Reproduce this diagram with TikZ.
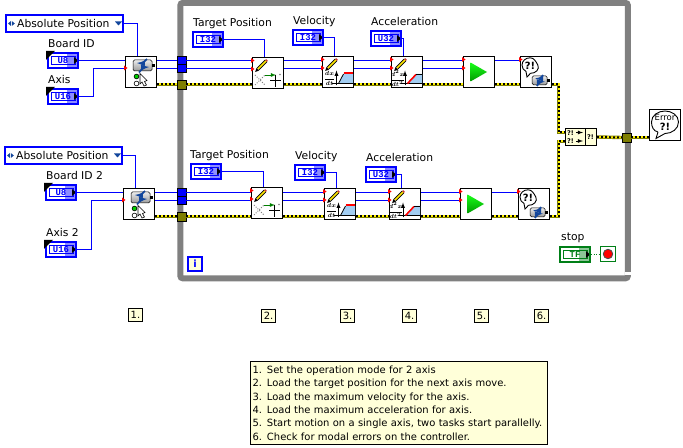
\documentclass[tikz,border=0pt]{standalone}
\usepackage{fontspec}
\setmainfont{DejaVu Sans}
\newfontfamily\termfont{Liberation Mono}
\usetikzlibrary{shapes,arrows,positioning,fit}

\definecolor{wireblue}{HTML}{0000FF}
\definecolor{wiregreen}{HTML}{007F17}
\definecolor{errolive}{HTML}{7F7F00}
\definecolor{notefill}{HTML}{FFFFD9}
\definecolor{motorblue}{HTML}{12469C}
\definecolor{rampblue}{HTML}{A2CDF2}

\tikzset{
	termbody/.style={rectangle, draw=#1, fill=white, line width=2bp, minimum width=30bp, minimum height=15bp,
		inner sep=0bp, font=\termfont\bfseries\fontsize{9}{9}\selectfont, text=#1,
		path picture={
			\coordinate (c) at (path picture bounding box.center);
			\fill [#1!45!white] ([xshift=4bp,yshift=-8bp]c) rectangle ([xshift=15bp,yshift=8bp]c);
			\draw [#1, line width=0.7bp] ([xshift=-12bp,yshift=-3.7bp]c) rectangle ([xshift=12bp,yshift=3.7bp]c);
			\fill [black] ([xshift=11bp,yshift=-3.5bp]c) -- ([xshift=15bp,yshift=0bp]c) -- ([xshift=11bp,yshift=3.5bp]c) -- cycle;
		}},
	corner/.pic={
		\fill [black] (-1,-1) -- (8,-1) -- (-1,8) -- cycle;
	},
	enumarrows/.pic={
		\fill [motorblue] (6,7) -- (3,9.5) -- (6,12) -- cycle;
		\fill [motorblue] (6.8,7) -- (9.8,9.5) -- (6.8,12) -- cycle;
		\fill [motorblue] (110,7.5) -- (117,7.5) -- (113.5,11.5) -- cycle;
	},
	pinone/.pic={
		\fill [red] (-1,1) -- (2.5,3.5) -- (-1,6) -- cycle;
	},
	pinpair/.pic={
		\fill [red] (-1,1) -- (2.5,3.5) -- (-1,6) -- cycle;
		\fill [red] (-1,9.5) -- (2.5,12) -- (-1,14.5) -- cycle;
	},
	pencil/.pic={
		\draw [black, line width=3.4bp] (6,12) -- (14,4);
		\draw [yellow!90!orange, line width=1.6bp] (6,12) -- (14,4);
		\fill [black] (3.2,15) -- (4.4,11) -- (7,13.6) -- cycle;
		\fill [red!60!gray] (13,3) -- (15,5) -- (15.8,3.6) -- (14.4,2.2) -- cycle;
	},
	motor/.pic={
		\shade [top color=gray!15, bottom color=gray!80, draw=black, line width=0.5bp, rounded corners=1.5bp] (0,0) rectangle (19,11);
		\fill [black] (19,4) rectangle (22,7);
		\draw [motorblue, line width=1.7bp, -latex] (14,-1) to [bend left=25] (4,3);
		\draw [motorblue, line width=1.7bp, -latex] (6,12.5) to [bend left=25] (16,7);
	},
	modeicon/.pic={
		\pic at (8,4) {motor};
		\draw [black, fill=green!80!black, line width=0.6bp] (11.5,20.5) circle (2.4);
		\draw [black, fill=white, line width=0.6bp] (11.5,27.5) circle (2.4);
		\draw [black, fill=white, line width=0.6bp] (15,17.5) -- (15,28) -- (17,26) -- (19,30) -- (21.5,29) -- (19.5,25.5) -- (22,24.5) -- cycle;
	},
	posicon/.pic={
		\draw [gray, line width=1bp, dash pattern=on 1bp off 1.5bp] (3,28) -- (13,18);
		\draw [gray, line width=1bp, dash pattern=on 1bp off 1.5bp] (3,18) -- (13,28);
		\draw [green!50!black, line width=0.8bp, -latex] (13,18) -- (24,18);
		\draw [black, line width=1bp] (18,24) -- (29,24);
		\draw [black, line width=1bp] (23.5,18.5) -- (23.5,30);
		\fill [gray] (28,17.5) circle (0.9);
	},
	velicon/.pic={
		\node (frac) at (7.5,22.5) [font=\fontsize{6.5}{7}\selectfont\boldmath, inner sep=0bp] {$\displaystyle\frac{dx}{dt}$};
		\draw [black, line width=0.9bp, -latex] (14.5,29.5) -- (14.5,14.5);
		\fill [rampblue] (16.5,27.5) -- (21.5,18) -- (31,18) -- (31,27.5) -- cycle;
		\draw [black, line width=0.9bp] (10,27.5) -- (31,27.5);
		\draw [black, line width=0.8bp] (16.5,27.5) -- (21.5,18);
		\draw [red, line width=2.2bp] (21.5,17) -- (31,17);
	},
	accicon/.pic={
		\node (frac) at (6.5,22.5) [font=\fontsize{6}{7}\selectfont\boldmath, inner sep=0bp] {$\displaystyle\frac{d^2x}{dt^2}$};
		\draw [black, line width=0.9bp, -latex] (14,29.5) -- (14,14.5);
		\fill [rampblue] (16.5,27.5) -- (25,18) -- (31,18) -- (31,27.5) -- cycle;
		\draw [black, line width=0.9bp] (10,27.5) -- (31,27.5);
		\draw [red, line width=1.6bp] (16.5,27.5) -- (25,18.5);
		\draw [black, line width=0.9bp] (25,18) -- (31,18);
	},
	playicon/.pic={
		\shade [top color=green!90!white, bottom color=green!60!black] (7.5,6.5) -- (24,16) -- (7.5,25.5) -- cycle;
	},
	checkicon/.pic={
		\draw [black, fill=white, line width=0.9bp] (6,15.5) -- (7,21) -- (10.5,17.3) to [out=-5, in=-60, looseness=1.1] (17.8,9) to [out=120, in=0] (10,1.8) to [out=180, in=90] (2,9) to [out=-90, in=150] (6,15.5);
		\node (bang) at (10,9.5) [font=\bfseries\fontsize{10}{10}\selectfont, inner sep=0bp] {?!};
		\pic [scale=0.8] at (12,20) {motor};
	},
	erroricon/.pic={
		\draw [black, fill=white, line width=0.9bp] (9,23) -- (7,29.5) -- (16,24.5) to [out=0, in=-90] (29.5,13) to [out=90, in=0] (16,2) to [out=180, in=90] (2.5,13) to [out=-90, in=170] (9,23);
		\node (err) at (16,8.5) [font=\fontsize{8.5}{9}\selectfont, inner sep=0bp] {Error};
		\node (bang) at (16,18) [font=\bfseries\fontsize{10}{10}\selectfont, inner sep=0bp] {?!};
	},
	mergeicon/.pic={
		\node (ina) at (5.5,5) [font=\bfseries\fontsize{6.5}{7}\selectfont, inner sep=0bp] {?!};
		\node (inb) at (5.5,13) [font=\bfseries\fontsize{6.5}{7}\selectfont, inner sep=0bp] {?!};
		\node (outa) at (25.5,9) [font=\bfseries\fontsize{6.5}{7}\selectfont, inner sep=0bp] {?!};
		\draw [black, line width=0.8bp, -latex] (11,4.5) -- (18,4.5);
		\draw [black, line width=0.8bp, -latex] (11,13) -- (18,13);
		\draw [black, line width=0.8bp] (20,0) -- (20,18);
	},
}

\begin{document}
\begin{tikzpicture}[x=1bp, y=-1bp]
	\tikzstyle{Loop}	= [rectangle, draw=gray, line width=6bp, rounded corners=2.5bp, minimum width=447.5bp, minimum height=275.5bp]
	\tikzstyle{Vi}		= [rectangle, draw, fill=white, line width=1bp, minimum size=31bp, inner sep=0bp]
	\tikzstyle{Const}	= [termbody=wireblue]
	\tikzstyle{Enum}	= [rectangle, draw=wireblue, fill=white, line width=2bp, minimum width=117bp, minimum height=17bp, inner sep=0bp]
	\tikzstyle{Tunnel}	= [rectangle, draw=black, fill=blue, line width=0.4bp, minimum width=8.4bp, minimum height=8bp, inner sep=0bp]
	\tikzstyle{ErrTun}	= [rectangle, draw=black, fill=errolive, line width=0.4bp, minimum size=8.5bp, inner sep=0bp]
	\tikzstyle{Label}	= [font=\fontsize{10.8}{12}\selectfont, inner sep=0bp, anchor=base west]
	\tikzstyle{Step}	= [rectangle, draw, fill=notefill, line width=1bp, minimum width=14bp, minimum height=13bp, inner sep=0bp, font=\fontsize{10}{12}\selectfont]
	\tikzstyle{Wire}	= [line width=1bp, wireblue]
	\tikzstyle{ErrWire}	= [line width=3.4bp, errolive, postaction={draw=yellow, line width=2bp}, postaction={draw=black, line width=2bp, dash pattern=on 2bp off 2bp}]

	\useasboundingbox (0,0) rectangle (683,448);

	% while loop frame
	\node (loop) at (404.1,140.6) [Loop] {};
	\fill [white] (625,272.5) rectangle (631,275.5);

	% left column, upper and lower axis
	\node (enuma) at (64.5,23.5) [Enum] {};
	\node (enumb) at (63.5,155.5) [Enum] {};
	\node (txta) at (7,28) [Label] {\hspace{10pt}Absolute Position};
	\node (txtb) at (6,160) [Label] {\hspace{10pt}Absolute Position};
	\node (boarda) at (63,60.5) [Const] {U8};
	\node (axisa) at (63,96.5) [Const] {U16};
	\node (boardb) at (61,192.5) [Const] {U8};
	\node (axisb) at (61,249.5) [Const] {U16};
	\node (lboarda) at (48,48) [Label] {Board ID};
	\node (laxisa) at (48,84) [Label] {Axis};
	\node (lboardb) at (46,180) [Label] {Board ID 2};
	\node (laxisb) at (46,237) [Label] {Axis 2};

	% sub VIs
	\node (modea) at (141,72) [Vi] {};
	\node (modeb) at (139,204) [Vi] {};
	\node (targeta) at (268,73) [Vi] {};
	\node (vela) at (338,72) [Vi] {};
	\node (acca) at (407,72) [Vi] {};
	\node (starta) at (479,72) [Vi] {};
	\node (checka) at (536,72) [Vi] {};
	\node (targetb) at (267,203) [Vi] {};
	\node (velb) at (340,204) [Vi] {};
	\node (accb) at (405,204) [Vi] {};
	\node (startb) at (476,204) [Vi] {};
	\node (checkb) at (534,204) [Vi] {};
	\node (merge) at (581,137) [rectangle, draw, fill=notefill, line width=1bp, minimum width=31bp, minimum height=17bp, inner sep=0bp] {};
	\node (errorout) at (665,125) [Vi] {};

	% tunnels
	\node (ta1) at (181.5,60.5) [Tunnel] {};
	\node (ta2) at (181.5,68.5) [Tunnel] {};
	\node (tae) at (181.5,84.5) [ErrTun] {};
	\node (tb1) at (181.5,192.5) [Tunnel] {};
	\node (tb2) at (181.5,200.5) [Tunnel] {};
	\node (tbe) at (181.5,216.5) [ErrTun] {};
	\node (tout) at (626.5,137.5) [ErrTun] {};

	% constants on the upper row
	\node (ctargeta) at (208,39.5) [Const] {I32};
	\node (cvela) at (308,37.5) [Const] {I32};
	\node (cacca) at (386,38.5) [Const] {U32};
	\node (ltargeta) at (193,27) [Label] {Target Position};
	\node (lvela) at (293,25) [Label] {Velocity};
	\node (lacca) at (371,26) [Label] {Acceleration};

	% constants on the lower row
	\node (ctargetb) at (206,171.5) [Const] {I32};
	\node (cvelb) at (310,172.5) [Const] {I32};
	\node (caccb) at (381,174.5) [Const] {U32};
	\node (ltargetb) at (190,159) [Label] {Target Position};
	\node (lvelb) at (295,160) [Label] {Velocity};
	\node (laccb) at (366,162) [Label] {Acceleration};

	% stop terminal and iteration count
	\node (lstop) at (561,241) [Label] {stop};
	\node (cstop) at (575,254.5) [termbody=wiregreen] {TF};
	\node (stopt) at (608,254) [rectangle, draw=wiregreen, fill=white, line width=1bp, minimum size=15bp, inner sep=0bp] {};
	\node (stopd) at (608,254) [circle, draw=black!70, fill=red, line width=0.8bp, minimum size=9.5bp, inner sep=0bp] {};
	\node (iter) at (195,264) [rectangle, draw=wireblue, fill=notefill, line width=2bp, minimum size=14bp, inner sep=0bp, text=wireblue, font=\bfseries\fontsize{10}{10}\selectfont] {i};

	% numbered steps and note
	\node (s1) at (135.5,315) [Step] {1.};
	\node (s2) at (268.5,316) [Step] {2.};
	\node (s3) at (347.5,316) [Step] {3.};
	\node (s4) at (409.5,316) [Step] {4.};
	\node (s5) at (481.5,316) [Step] {5.};
	\node (s6) at (541.5,316) [Step] {6.};
	\node (note) at (250.5,361.5) [rectangle, draw, fill=notefill, line width=1bp, outer sep=0bp, anchor=north west, inner xsep=2bp, inner ysep=4.5bp,
		text width=293bp, align=left, font=\fontsize{10}{13.4}\selectfont] {1. Set the operation mode for 2 axis\\
		2. Load the target position for the next axis move.\\
		3. Load the maximum velocity for the axis.\\
		4. Load the maximum acceleration for axis.\\
		5. Start motion on a single axis, two tasks start parallelly.\\
		6. Check for modal errors on the controller.};

	% wires, upper axis
	\draw [-] (enuma.east) -| ([xshift=-3.5bp]modea.north) [Wire];
	\draw [-] (boarda.east) to (boarda -| modea.west) [Wire];
	\draw [-] (axisa.east) -- ++(14.5,0) |- (ta2 -| modea.west) [Wire];
	\draw [-] (ta1 -| modea.east) to (ta1.west) [Wire];
	\draw [-] (ta2 -| modea.east) to (ta2.west) [Wire];
	\draw [-] (ta1.east) to (ta1 -| targeta.west) [Wire];
	\draw [-] (ta2.east) to (ta2 -| targeta.west) [Wire];
	\draw [-] (ta1 -| targeta.east) to (ta1 -| vela.west) [Wire];
	\draw [-] (ta2 -| targeta.east) to (ta2 -| vela.west) [Wire];
	\draw [-] (ta1 -| vela.east) to (ta1 -| acca.west) [Wire];
	\draw [-] (ta2 -| vela.east) to (ta2 -| acca.west) [Wire];
	\draw [-] (ta1 -| acca.east) to (ta1 -| starta.west) [Wire];
	\draw [-] (ta2 -| acca.east) to (ta2 -| starta.west) [Wire];
	\draw [-] (ta1 -| starta.east) to (ta1 -| checka.west) [Wire];
	\draw [-] (ctargeta.east) -| ([xshift=-3.5bp]targeta.north) [Wire];
	\draw [-] (cvela.east) -| ([xshift=-3.5bp]vela.north) [Wire];
	\draw [-] (cacca.east) -| ([xshift=-3.5bp]acca.north) [Wire];

	% wires, lower axis
	\draw [-] (enumb.east) -| ([xshift=-3.5bp]modeb.north) [Wire];
	\draw [-] (boardb.east) to (boardb -| modeb.west) [Wire];
	\draw [-] (axisb.east) -- ++(14.5,0) |- (tb2 -| modeb.west) [Wire];
	\draw [-] (tb1 -| modeb.east) to (tb1.west) [Wire];
	\draw [-] (tb2 -| modeb.east) to (tb2.west) [Wire];
	\draw [-] (tb1.east) to (tb1 -| targetb.west) [Wire];
	\draw [-] (tb2.east) to (tb2 -| targetb.west) [Wire];
	\draw [-] (tb1 -| targetb.east) to (tb1 -| velb.west) [Wire];
	\draw [-] (tb2 -| targetb.east) to (tb2 -| velb.west) [Wire];
	\draw [-] (tb1 -| velb.east) to (tb1 -| accb.west) [Wire];
	\draw [-] (tb2 -| velb.east) to (tb2 -| accb.west) [Wire];
	\draw [-] (tb1 -| accb.east) to (tb1 -| startb.west) [Wire];
	\draw [-] (tb2 -| accb.east) to (tb2 -| startb.west) [Wire];
	\draw [-] (tb1 -| startb.east) to (tb1 -| checkb.west) [Wire];
	\draw [-] (ctargetb.east) -| ([xshift=-3.5bp]targetb.north) [Wire];
	\draw [-] (cvelb.east) -| ([xshift=-3.5bp]velb.north) [Wire];
	\draw [-] (caccb.east) -| ([xshift=-3.5bp]accb.north) [Wire];

	% error wires
	\draw [-] (tae -| modea.east) to (tae.west) [ErrWire];
	\draw [-] (tae.east) to (tae -| targeta.west) [ErrWire];
	\draw [-] (tae -| targeta.east) to (tae -| vela.west) [ErrWire];
	\draw [-] (tae -| vela.east) to (tae -| acca.west) [ErrWire];
	\draw [-] (tae -| acca.east) to (tae -| starta.west) [ErrWire];
	\draw [-] (tae -| starta.east) to (tae -| checka.west) [ErrWire];
	\draw [-] (tbe -| modeb.east) to (tbe.west) [ErrWire];
	\draw [-] (tbe.east) to (tbe -| targetb.west) [ErrWire];
	\draw [-] (tbe -| targetb.east) to (tbe -| velb.west) [ErrWire];
	\draw [-] (tbe -| velb.east) to (tbe -| accb.west) [ErrWire];
	\draw [-] (tbe -| accb.east) to (tbe -| startb.west) [ErrWire];
	\draw [-] (tbe -| startb.east) to (tbe -| checkb.west) [ErrWire];
	\draw [-] (tae -| checka.east) -- ++(6.7,0) |- ([yshift=4.5bp]merge.west) [ErrWire];
	\draw [-] (tbe -| checkb.east) -- ++(8.7,0) |- ([yshift=-4.5bp]merge.west) [ErrWire];
	\draw [-] (merge.east) to (tout.west) [ErrWire];
	\draw [-] (tout.east) to (tout -| errorout.west) [ErrWire];
	\draw [-, wiregreen, line width=1bp, dash pattern=on 1bp off 1.5bp] (cstop.east) to (cstop -| stopt.west);

	% icons on the sub VIs
	\pic at (enuma.north west) {enumarrows};
	\pic at (enumb.north west) {enumarrows};
	\pic at (modea.north west) {modeicon};
	\pic at (modeb.north west) {modeicon};
	\pic at (targeta.north west) {posicon};
	\pic at (targetb.north west) {posicon};
	\pic at (vela.north west) {velicon};
	\pic at (velb.north west) {velicon};
	\pic at (acca.north west) {accicon};
	\pic at (accb.north west) {accicon};
	\pic at (targeta.north west) {pencil};
	\pic at (targetb.north west) {pencil};
	\pic at (vela.north west) {pencil};
	\pic at (velb.north west) {pencil};
	\pic at (acca.north west) {pencil};
	\pic at (accb.north west) {pencil};
	\pic at (starta.north west) {playicon};
	\pic at (startb.north west) {playicon};
	\pic at (checka.north west) {checkicon};
	\pic at (checkb.north west) {checkicon};
	\pic at (errorout.north west) {erroricon};
	\pic at (merge.north west) {mergeicon};

	% terminal pins
	\pic at ([yshift=-8.5bp]modea.north west) {pinone};
	\pic at ([yshift=-8.5bp]modeb.north west) {pinone};
	\pic at (targeta.north west) {pinpair};
	\pic at (targetb.north west) {pinpair};
	\pic at (vela.north west) {pinpair};
	\pic at (velb.north west) {pinpair};
	\pic at (acca.north west) {pinpair};
	\pic at (accb.north west) {pinpair};
	\pic at (starta.north west) {pinpair};
	\pic at (startb.north west) {pinpair};
	\pic at (checka.north west) {pinone};
	\pic at (checkb.north west) {pinone};

	% control corners
	\pic at (boarda.north west) {corner};
	\pic at (axisa.north west) {corner};
	\pic at (boardb.north west) {corner};
	\pic at (axisb.north west) {corner};
\end{tikzpicture}
\end{document}
